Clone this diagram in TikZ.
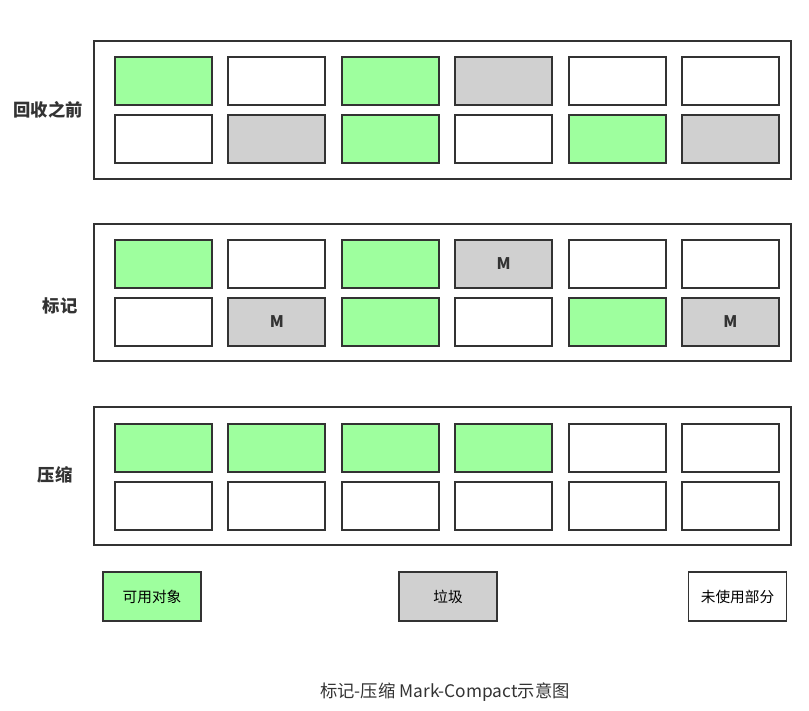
\documentclass[tikz,border=0pt]{standalone}
\usepackage{fontspec}
\setmainfont{Noto Sans CJK SC}
\definecolor{livegreen}{RGB}{158,255,158}
\definecolor{garbage}{RGB}{208,208,208}
\definecolor{edge}{RGB}{51,51,51}
\begin{document}
\begin{tikzpicture}[x=0.75pt,y=-0.75pt,
  panel/.style={draw=edge,line width=1.4pt,fill=white},
  cell/.style={draw=edge,line width=1.4pt,minimum width=97*0.75pt,minimum height=48*0.75pt,inner sep=0pt,font=\bfseries\fontsize{12}{12}\selectfont,text=edge},
  gc/.style={cell,fill=livegreen},
  yc/.style={cell,fill=garbage},
  wc/.style={cell,fill=white},
  rowlabel/.style={font=\bfseries\fontsize{13}{13}\selectfont,text=edge},
  legend/.style={draw=edge,line width=1.4pt,minimum width=98*0.75pt,minimum height=49*0.75pt,inner sep=0pt,font=\fontsize{11}{11}\selectfont}]
\useasboundingbox (0,0) rectangle (809,710);
% panels
\draw[panel] (94,41) rectangle (791,179);
\draw[panel] (94,224) rectangle (791,361);
\draw[panel] (94,407) rectangle (791,545);
% labels
\node[rowlabel] (l1) at (48,110) {回收之前};
\node[rowlabel] (l2) at (60,306) {标记};
\node[rowlabel] (l3) at (55,475) {压缩};
% panel 1
\foreach \s [count=\i] in {gc,wc,gc,yc,wc,wc}
  \node[\s] (a1\i) at ({163.5+113.4*(\i-1)},81) {};
\foreach \s [count=\i] in {wc,yc,gc,wc,gc,yc}
  \node[\s] (a2\i) at ({163.5+113.4*(\i-1)},139) {};
% panel 2
\foreach \s/\t [count=\i] in {gc/,wc/,gc/,yc/M,wc/,wc/}
  \node[\s] (b1\i) at ({163.5+113.4*(\i-1)},264) {\t};
\foreach \s/\t [count=\i] in {wc/,yc/M,gc/,wc/,gc/,yc/M}
  \node[\s] (b2\i) at ({163.5+113.4*(\i-1)},322) {\t};
% panel 3
\foreach \s [count=\i] in {gc,gc,gc,gc,wc,wc}
  \node[\s] (c1\i) at ({163.5+113.4*(\i-1)},448) {};
\foreach \s [count=\i] in {wc,wc,wc,wc,wc,wc}
  \node[\s] (c2\i) at ({163.5+113.4*(\i-1)},506) {};
% legend
\node[legend,fill=livegreen] (lg1) at (152,596.5) {可用对象};
\node[legend,fill=garbage] (lg2) at (448,596.5) {垃圾};
\node[legend,fill=white] (lg3) at (737.5,596.5) {未使用部分};
% caption
\node[font=\fontsize{13}{13}\selectfont,text=edge] (cap) at (445,692) {标记-压缩 Mark-Compact示意图};
\end{tikzpicture}
\end{document}
